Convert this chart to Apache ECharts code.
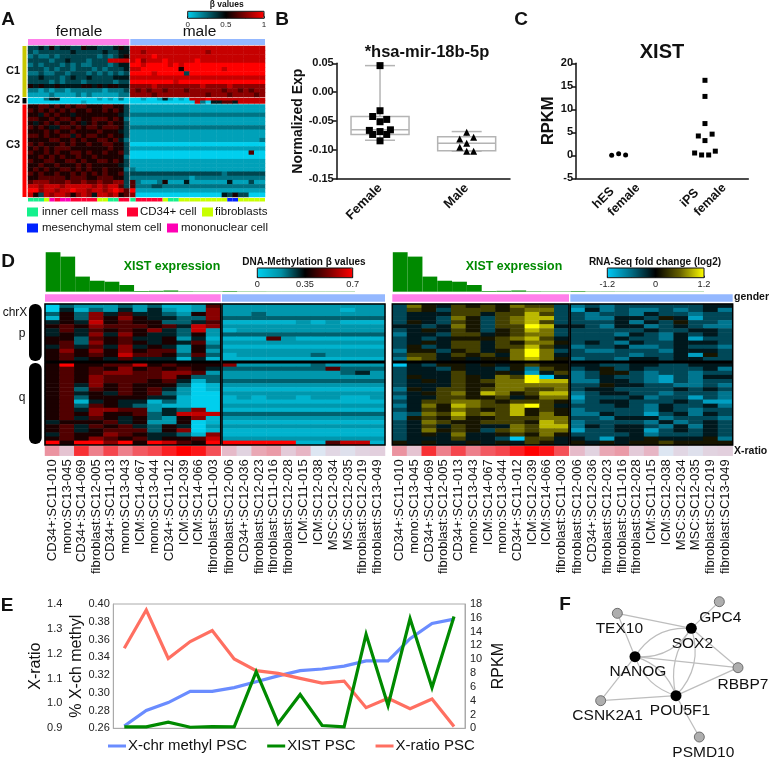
<!DOCTYPE html>
<html>
<head>
<meta charset="utf-8">
<style>html,body{margin:0;background:#fff}#c{width:770px;height:762px;filter:blur(0.45px)}</style>
<script src="https://cdn.jsdelivr.net/npm/echarts@6/dist/echarts.min.js"></script>
</head>
<body>
<div id="c"></div>
<script>
// panel A, one digit per cell (0 low .. 9 high), female columns then male columns
const heatA = [
  '3343534433544333454 8888888888888888888888888',
  '3233333343333343344 8878888888888878888888888',
  '2322323333333232345 8888988888888888888888888',
  '3333233433323338888 8978889888889888888888888',
  '2323332323223332344 9989999898999999999999999',
  '3332323323332323334 8899999995999999989999999',
  '2232233233323232323 9999899999399999999999999',
  '3343332343343333444 8888888888888888888888888',
  '3333232333233333233 9999999989999999999999999',
  '5454454444554545544 7777877777777877778777777',
  '2212122122222212223 7676776777677777767767677',
  '1111211112121111122 7777677777777767776777767',
  '0002440000000101020 0010014101088898888888888',
  '0000000000100000000 0000000000008204466488888',
  '5566565656655566553 1111111111111111111111111',
  '6565656565565565653 1111111111111111111111111',
  '5546565545555555543 2222222222222222222222222',
  '6655656656556665652 1111111111111111111111111',
  '5456565565456556553 1111111111111111111111111',
  '6565446656566566653 2222222222222222222222222',
  '5556565565555655543 1111111111111111111111111',
  '6656556646566556553 1111111111111111111111111',
  '5555665565655665642 1111111111111111111111112',
  '6565556565565566553 0000000000000000000000000',
  '5656566655555556553 1111111111111111111111111',
  '6556565566565565563 0000000000000000000000600',
  '5565656556556555552 0000000000000000000000000',
  '6556655665655665653 1111111111111111111111111',
  '5565565556565555543 1111111111111111111111111',
  '5656556656565565552 2111111111111111111111111',
  '6565565565656565563 3333333333333333323333333',
  '5566666566655666553 2222222222212222222222222',
  '6777666766766766773 6211125111411111114111311',
  '8878887888887878863 6222332222222222222222222',
  '9978878898878878986 9111111111111111111111111',
  '8538788757874887856 7000000000000000043533000'
]
const heatAStripFemale = ['icm','icm','icm','fib','mono','cd34','mono','mono','cd34','cd34','cd34','cd34','cd34','fib','fib','icm','icm','cd34','cd34']
const heatAStripMale = ['icm','cd34','cd34','cd34','cd34','cd34','fib','icm','icm','fib','fib','fib','fib','fib','fib','fib','fib','fib','msc','msc','fib','fib','fib','fib','fib']
const cellTypeNames = ['inner cell mass', 'CD34+ cell', 'fibroblasts', 'mesenchymal stem cell', 'mononuclear cell']

// panel B: category, min, q1, median, q3, max
const boxCategories = ['Female', 'Male']
const boxValues = [[0, -0.083, -0.073, -0.065, -0.042, 0.046], [1, -0.102, -0.101, -0.088, -0.077, -0.068]]
const femalePoints = [[0.5, 0.046], [0.5, -0.032], [0.415, -0.042], [0.577, -0.047], [0.5, -0.051], [0.377, -0.066], [0.62, -0.065], [0.5, -0.068], [0.415, -0.073], [0.577, -0.073], [0.5, -0.084]]
const malePoints = [[1.5, -0.069], [1.42, -0.081], [1.58, -0.078], [1.5, -0.088], [1.42, -0.095], [1.5, -0.102], [1.58, -0.102]]

// panel C
const xistCategories = ['hES female', 'iPS female']
const hesPoints = [[0.414, 0], [0.495, 0.36], [0.576, 0.07]]
const ipsPoints = [[1.497, 16.3], [1.497, 12.8], [1.497, 6.9], [1.42, 4.2], [1.58, 4.6], [1.497, 3.2], [1.377, 0.5], [1.617, 0.9], [1.458, 0.07], [1.54, 0.07]]

// panel D
const samplesFemale = ['CD34+:SC11-010', 'mono:SC13-045', 'CD34+:SC14-069', 'fibroblast:SC12-005', 'CD34+:SC11-013', 'mono:SC13-043', 'ICM:SC14-067', 'mono:SC13-044', 'CD34+:SC11-012', 'ICM:SC12-039', 'ICM:SC14-066', 'fibroblast:SC11-003']
const samplesMale = ['fibroblast:SC12-006', 'CD34+:SC12-036', 'fibroblast:SC12-023', 'fibroblast:SC11-016', 'fibroblast:SC12-028', 'ICM:SC11-015', 'ICM:SC12-038', 'MSC:SC12-034', 'MSC:SC12-035', 'fibroblast:SC12-019', 'fibroblast:SC13-049']
const xistBars = [16.2, 14.4, 6.2, 4.5, 4.1, 2.75, 0.28, 0.35, 0.5, 0.18, 0.14, 0.14, 0.25, 0.12, 0.12, 0.1, 0.1, 0.1, 0.1, 0.1, 0.1]
const xRatioFemale = [0.5, 0.28, 0.85, 0.58, 0.78, 0.58, 0.72, 0.78, 0.9, 1, 0.93, 0.75]
const xRatioMale = [0.34, 0.15, 0.42, 0.47, 0.22, 0.36, 0, 0.13, 0.05, 0.15, 0.18]
const heatMethyl = [
  '032223231126 22222222222',
  '041324242127 22222222122',
  '353746443257 22322222222',
  '153757544337 33333333333',
  '454856553346 11111212111',
  '565766656487 22222222222',
  '464656574382 12222222222',
  '454747544352 33333333333',
  '553656445241 11162111111',
  '563756545462 22222222222',
  '464647454253 11111111111',
  '575757566252 22222222222',
  '565658665363 12222232222',
  '564546444141 11111111111',
  '595566856555 72222232222',
  '565657565654 33333336333',
  '565677667762 22222222342',
  '565766667533 22222222222',
  '565766656413 33333333333',
  '564756555301 22222222222',
  '563656564201 11111111111',
  '564546563200 22222222222',
  '563555544100 12122122112',
  '561454413100 11111111111',
  '563654321100 22222222222',
  '564776624370 11111111111',
  '565755634888 33333333333',
  '564654532571 22222222222',
  '455564522501 11111111111',
  '564656435402 22222222222',
  '564566635701 11111111111',
  '465576544317 11111111111',
  '565765645568 22222222222',
  '959979598659 99999116881'
]
const heatRna = [
  '375465657663 23233333344',
  '365366656773 14232232342',
  '344466466863 32332433233',
  '344375367883 32244354133',
  '354365367863 33342435332',
  '443475366984 43244234322',
  '345465356873 33333433443',
  '244366456773 33324324343',
  '343455567864 33343324133',
  '345466465775 34324334443',
  '353466466864 23342234332',
  '255356457973 32233324443',
  '366465647974 33332334153',
  '276454557875 23324434433',
  '043554545655 44334433444',
  '344354435265 34534333342',
  '344464454146 23553233233',
  '354465476904 23433213244',
  '345465677988 22443213233',
  '344465577777 33544332232',
  '254665677667 34433334343',
  '345675875688 23443323332',
  '244665564577 13334233132',
  '346677656665 23443334311',
  '247587668964 33343243342',
  '346576568565 23333243233',
  '237686768575 22433134243',
  '256575566677 33244423332',
  '347655666587 23333242343',
  '346465447688 24344324243',
  '347565367677 13344134343',
  '345474456575 33334233343',
  '344464430664 43144544452',
  '545445454654 54545565555'
]

// panel E
const pscIndex = ['1', '2', '3', '4', '5', '6', '7', '8', '9', '10', '11', '12', '13', '14', '15', '16']
const methylPsc = [0.2626, 0.28, 0.289, 0.3016, 0.3016, 0.3058, 0.3125, 0.319, 0.325, 0.3268, 0.33, 0.336, 0.336, 0.361, 0.378, 0.383]
const xistPsc = [0.2, 0.2, 0.9, 0.15, 0.25, 0.2, 8.2, 0.7, 4.9, 0.4, 0.2, 13.6, 3.3, 15.9, 5.9, 16.2]
const xRatioPsc = [1.222, 1.376, 1.181, 1.249, 1.293, 1.179, 1.132, 1.121, 1.101, 1.082, 1.09, 0.983, 1.021, 0.979, 1.018, 0.907]

// panel F, read in crop units
const netNames = ['TEX10', 'GPC4', 'SOX2', 'NANOG', 'RBBP7', 'POU5F1', 'CSNK2A1', 'PSMD10']
const netX = [262, 568, 484, 315, 624, 438, 212, 508]
const netY = [70, 35, 115, 200, 233, 317, 332, 441]
const netHub = [0, 0, 1, 1, 0, 1, 0, 0]
const netEdges = [[0, 2, 0], [0, 3, 0], [1, 2, 0], [2, 3, 0.3], [2, 3, -0.3], [2, 4, 0], [2, 5, 0.3], [2, 5, -0.25], [3, 4, 0], [3, 5, 0.25], [3, 5, -0.25], [4, 5, 0], [5, 6, 0], [3, 6, 0], [5, 7, 0]]

const FONT = 'Liberation Sans'
const cyanRed = ['#00cfee', '#000000', '#ff0000']
const cyanRedDark = ['#00cfee', '#0090a5', '#000000', '#7a0000', '#ff0000']
const cyanYellow = ['#00c8f4', '#006c84', '#000000', '#666000', '#ffff00']
const typeColors = { icm: '#14f08c', cd34: '#ff0033', fib: '#c8ff00', msc: '#0022ff', mono: '#ff00b4' }
const PINK = '#ff80ea'
const BLUE = '#94b8ff'
const GREEN = '#008a00'

let grids = []
let xAxes = []
let yAxes = []
let series = []
let texts = []

function addGrid (l, t, w, h, extra) {
  grids.push(Object.assign({ left: l, top: t, width: w, height: h }, extra))
  return grids.length - 1
}
function label (text, x, y, size, opts) {
  texts.push({
    type: 'text',
    silent: true,
    x,
    y,
    rotation: (opts && opts.rotation) || 0,
    style: Object.assign({
      text,
      x: 0,
      y: 0,
      font: `${(opts && opts.weight) || 'normal'} ${size}px "${FONT}"`,
      fill: '#111',
      textAlign: 'center',
      textVerticalAlign: 'middle'
    }, opts && opts.style)
  })
}

// heatmap cut in blocks so the white gaps are real gaps
function heat (rows, xr, yBlocks, map, lo, hi, framed) {
  let start = 0
  yBlocks.forEach(([top, bottom, count]) => {
    xr.forEach(([x0, x1], c) => {
      const g = addGrid(x0, top, x1 - x0, bottom - top, framed ? { show: true, borderColor: '#000', borderWidth: 1.5, z: 5 } : {})
      const part = rows.slice(start, start + count).map(r => r.split(' ')[c])
      const data = []
      part.forEach((cells, y) => {
        cells.split('').forEach((d, x) => data.push([x, y, lo + +d / 9 * (hi - lo)]))
      })
      xAxes.push({ type: 'category', gridIndex: g, show: false, data: part[0].split('').map((d, i) => i) })
      yAxes.push({ type: 'category', gridIndex: g, show: false, inverse: true, data: part.map((d, i) => i) })
      map.push(series.length)
      series.push({ type: 'heatmap', xAxisIndex: xAxes.length - 1, yAxisIndex: yAxes.length - 1, data, silent: true, progressive: 0 })
    })
    start += count
  })
}

// one row of coloured cells
function strip (x0, x1, top, bottom, colors, radius) {
  const g = addGrid(x0, top, x1 - x0, bottom - top)
  xAxes.push({ type: 'category', gridIndex: g, show: false, data: colors.map((d, i) => i) })
  yAxes.push({ type: 'value', gridIndex: g, show: false, min: 0, max: 1 })
  series.push({
    type: 'bar',
    xAxisIndex: xAxes.length - 1,
    yAxisIndex: yAxes.length - 1,
    barCategoryGap: 0,
    silent: true,
    data: colors.map(c => ({ value: 1, itemStyle: { color: c, borderRadius: radius || 0 } }))
  })
}

function colorbarAxis (x0, x1, top, bottom, min, max, interval, size, margin) {
  const g = addGrid(x0, top, x1 - x0, bottom - top, { show: true, borderColor: '#111', borderWidth: 1, z: 5 })
  xAxes.push({
    type: 'value', gridIndex: g, min, max, interval,
    axisLine: { show: false },
    splitLine: { show: false },
    axisTick: { inside: true, length: 2, lineStyle: { color: '#333' } },
    minorTick: { show: true, splitNumber: 2, length: 1.5, lineStyle: { color: '#333' } },
    axisLabel: { fontFamily: FONT, fontSize: size, color: '#222', margin, showMinLabel: true, showMaxLabel: true, formatter: v => String(+v.toFixed(2)), z: 6 }
  })
  yAxes.push({ type: 'value', gridIndex: g, show: false, min: 0, max: 1 })
}

function xistPanel (x0, x1) {
  const g = addGrid(x0, 251, x1 - x0, 40.7)
  xAxes.push({ type: 'category', gridIndex: g, show: false, data: xistBars.map((d, i) => i) })
  yAxes.push({ type: 'value', gridIndex: g, show: false, min: 0, max: 16.7 })
  series.push({ type: 'bar', xAxisIndex: xAxes.length - 1, yAxisIndex: yAxes.length - 1, barCategoryGap: 0, silent: true, itemStyle: { color: GREEN }, data: xistBars })
}

function ratioPanel (x0, x1, names, values, map) {
  const g = addGrid(x0, 446.3, x1 - x0, 9.4)
  xAxes.push({
    type: 'category', gridIndex: g, data: names,
    axisLine: { show: false },
    axisTick: { show: false },
    axisLabel: { interval: 0, rotate: 90, margin: 3.5, fontFamily: FONT, fontSize: 13, color: '#111' }
  })
  yAxes.push({ type: 'category', gridIndex: g, show: false, data: ['x'] })
  map.push(series.length)
  series.push({ type: 'heatmap', xAxisIndex: xAxes.length - 1, yAxisIndex: yAxes.length - 1, silent: true, progressive: 0, data: values.map((v, i) => [i, 0, v]) })
}

function dotAxes (g, cats, yMin, yMax, interval, fmt, name, nameSize, nameGap, labelSize, catSize) {
  xAxes.push({
    type: 'category', gridIndex: g, data: cats,
    axisLine: { onZero: false, lineStyle: { color: '#111', width: 1.5 } },
    axisTick: { alignWithLabel: true, length: 4, lineStyle: { color: '#111', width: 1.5 } },
    axisLabel: catSize ? { interval: 0, rotate: 45, margin: 7, fontFamily: FONT, fontWeight: 'bold', fontSize: catSize, color: '#111' } : { show: false }
  })
  const catAxis = xAxes.length - 1
  xAxes.push({ type: 'value', gridIndex: g, show: false, min: 0, max: 2 })
  yAxes.push({
    type: 'value', gridIndex: g, min: yMin, max: yMax, interval,
    name, nameLocation: 'middle', nameGap,
    nameTextStyle: { fontFamily: FONT, fontWeight: 'bold', fontSize: nameSize, color: '#111' },
    axisLine: { show: true, lineStyle: { color: '#111', width: 1.5 } },
    axisTick: { show: true, length: 4, lineStyle: { color: '#111', width: 1.5 } },
    splitLine: { show: false },
    axisLabel: { fontFamily: FONT, fontWeight: 'bold', fontSize: labelSize, color: '#111', margin: 3, formatter: fmt }
  })
  return { catAxis, dotAxis: catAxis + 1, y: yAxes.length - 1 }
}

function dots (ax, points, symbol, size) {
  series.push({ type: 'scatter', xAxisIndex: ax.dotAxis, yAxisIndex: ax.y, symbol, symbolSize: size, silent: true, z: 4, itemStyle: { color: '#000', opacity: 1 }, data: points })
}

const mapA = []
const mapMethyl = []
const mapRna = []
const mapRatio = []

// panel A
strip(28, 129.3, 39, 45, [PINK])
strip(130.3, 265, 39, 45, [BLUE])
strip(22.5, 26.5, 46, 97, ['#c8c800'])
strip(22.5, 26.5, 98, 103.5, ['#000'])
strip(22.5, 26.5, 104.5, 197, ['#ff0000'])
heat(heatA, [[28, 129.3], [130.3, 265]], [[46, 97, 12], [98, 103.5, 2], [104.5, 197, 22]], mapA, 0, 1, false)
strip(28, 129.3, 198, 201.5, heatAStripFemale.map(t => typeColors[t]))
strip(130.3, 265, 198, 201.5, heatAStripMale.map(t => typeColors[t]))
colorbarAxis(187.7, 264, 11.3, 18.3, 0, 1, 0.5, 8, 2)

label('A', 8, 20, 19, { weight: 'bold' })
label('female', 79, 32, 15.5)
label('male', 199.5, 32, 15.5)
label('C1', 13, 71, 11, { weight: 'bold' })
label('C2', 13, 100, 11, { weight: 'bold' })
label('C3', 13, 145, 11, { weight: 'bold' })
label('β values', 226.7, 5, 8.5, { weight: 'bold' })

// cell type key, same order as cellTypeNames
const keyRows = [[27, 212, 'icm', 42], [127, 212, 'cd34', 140], [202, 212, 'fib', 215], [27, 228, 'msc', 42], [167, 228, 'mono', 181]]
keyRows.forEach(([x, y, t, tx], i) => {
  strip(x, x + 11, y - 4.5, y + 4.5, [typeColors[t]])
  label(cellTypeNames[i], tx, y, 11.5, { style: { textAlign: 'left' } })
})

// panel B
label('B', 282, 20, 19, { weight: 'bold' })
label('*hsa-mir-18b-5p', 427, 52, 16.5, { weight: 'bold' })
const gB = addGrid(336.7, 63.3, 173.3, 115.7)
const axB = dotAxes(gB, boxCategories, -0.15, 0.05, 0.05, v => (Math.abs(v) < 1e-9 ? 0 : v).toFixed(2), 'Normalized Exp', 14, 32, 11, 13)
// whisker caps are half the box width, which the boxplot series cannot do
series.push({
  type: 'custom',
  xAxisIndex: axB.catAxis,
  yAxisIndex: axB.y,
  silent: true,
  encode: { x: 0, y: [1, 2, 3, 4, 5] },
  data: boxValues,
  renderItem (params, api) {
    const x = api.coord([api.value(0), 0])[0]
    const y = i => api.coord([api.value(0), api.value(i)])[1]
    const hLine = (yy, half) => ({ type: 'line', shape: { x1: x - half, y1: yy, x2: x + half, y2: yy } })
    const vLine = (y1, y2) => ({ type: 'line', shape: { x1: x, y1, x2: x, y2 } })
    const style = { stroke: '#b4b4b4', fill: null, lineWidth: 1.5 }
    return {
      type: 'group',
      children: [
        { type: 'rect', shape: { x: x - 29, y: y(4), width: 58, height: y(2) - y(4) } },
        hLine(y(3), 29),
        hLine(y(1), 15),
        hLine(y(5), 15),
        vLine(y(1), y(2)),
        vLine(y(4), y(5))
      ].map(el => Object.assign(el, { style }))
    }
  }
})
dots(axB, femalePoints, 'rect', 7)
dots(axB, malePoints, 'triangle', 7)

// panel C
label('C', 521, 20, 19, { weight: 'bold' })
label('XIST', 662, 52, 20, { weight: 'bold' })
const gC = addGrid(576, 63.3, 172.3, 115)
const axC = dotAxes(gC, xistCategories, -5, 20, 5, v => String(v), 'RPKM', 16.5, 17, 11, 0)
dots(axC, hesPoints, 'circle', 5)
dots(axC, ipsPoints, 'rect', 5)
const diag = Math.PI / 4
xistCategories.forEach((name, i) => {
  const [a, b] = name.split(' ')
  label(a, 603.5 + i * 86.2, 198, 12.5, { weight: 'bold', rotation: diag })
  label(b, 624 + i * 86.2, 200, 12.5, { weight: 'bold', rotation: diag })
})

// panel D
label('D', 8, 262, 19, { weight: 'bold' })
const rowsD = [[304, 361.3, 14], [362.8, 445, 20]]
const xLeft = [[45, 220.7], [222, 385]]
const xRight = [[392.3, 569], [570.3, 732.7]]
xistPanel(45.7, 355)
xistPanel(392.8, 704)
strip(xLeft[0][0], xLeft[0][1], 294.3, 301.7, [PINK])
strip(xLeft[1][0], xLeft[1][1], 294.3, 301.7, [BLUE])
strip(xRight[0][0], xRight[0][1], 294.3, 301.7, [PINK])
strip(xRight[1][0], xRight[1][1], 294.3, 301.7, [BLUE])
strip(29, 41.7, 304, 361, ['#000'], 6)
strip(29, 41.7, 363, 444, ['#000'], 6)
heat(heatMethyl, xLeft, rowsD, mapMethyl, 0, 0.7, true)
heat(heatRna, xRight, rowsD, mapRna, -1.2, 1.2, true)
ratioPanel(xLeft[0][0], xLeft[0][1], samplesFemale, xRatioFemale, mapRatio)
ratioPanel(xLeft[1][0], xLeft[1][1], samplesMale, xRatioMale, mapRatio)
ratioPanel(xRight[0][0], xRight[0][1], samplesFemale, xRatioFemale, mapRatio)
ratioPanel(xRight[1][0], xRight[1][1], samplesMale, xRatioMale, mapRatio)
colorbarAxis(257.3, 352.7, 268, 277.7, 0, 0.7, 0.35, 9.2, 2)
colorbarAxis(607.3, 704, 268, 277.7, -1.2, 1.2, 1.2, 9.2, 2)

label('XIST expression', 172, 267, 12.4, { weight: 'bold', style: { fill: GREEN } })
label('XIST expression', 514, 267, 12.4, { weight: 'bold', style: { fill: GREEN } })
label('DNA-Methylation β values', 304, 262, 10, { weight: 'bold' })
label('RNA-Seq fold change (log2)', 655, 262, 10, { weight: 'bold' })
label('chrX', 15, 313, 12)
label('p', 22, 334, 12)
label('q', 22, 398, 12)
label('gender', 734, 297.5, 10.5, { weight: 'bold', style: { textAlign: 'left' } })
label('X-ratio', 734, 451, 10.5, { weight: 'bold', style: { textAlign: 'left' } })

// panel E
label('E', 7, 606, 19, { weight: 'bold' })
const gE = addGrid(113.3, 604, 351.7, 124.3, { show: true, borderColor: '#aaa', borderWidth: 1 })
xAxes.push({
  type: 'category', gridIndex: gE, data: pscIndex,
  axisLine: { lineStyle: { color: '#aaa' } },
  axisTick: { length: 3, lineStyle: { color: '#aaa' } },
  axisLabel: { show: false }
})
const xE = xAxes.length - 1
const eName = { fontFamily: FONT, fontSize: 16, color: '#111' }
const eTick = { fontFamily: FONT, fontSize: 11, color: '#222' }
yAxes.push({
  type: 'value', gridIndex: gE, position: 'left', min: 0.26, max: 0.4, interval: 0.02,
  name: '% X-ch methyl', nameLocation: 'middle', nameGap: 26, nameTextStyle: eName,
  axisLine: { show: true, lineStyle: { color: '#aaa' } }, axisTick: { show: false }, splitLine: { show: false },
  axisLabel: Object.assign({ margin: 3.5, formatter: v => v.toFixed(2) }, eTick)
})
const yMethyl = yAxes.length - 1
yAxes.push({
  type: 'value', gridIndex: gE, position: 'left', offset: 48, min: 0.9, max: 1.4, interval: 0.1,
  name: 'X-ratio', nameLocation: 'middle', nameGap: 19, nameTextStyle: eName,
  axisLine: { show: false }, axisTick: { show: false }, splitLine: { show: false },
  axisLabel: Object.assign({ margin: 3, formatter: v => v.toFixed(1) }, eTick)
})
const yRatio = yAxes.length - 1
yAxes.push({
  type: 'value', gridIndex: gE, position: 'right', min: 0, max: 18, interval: 2,
  name: 'RPKM', nameLocation: 'middle', nameGap: 26, nameTextStyle: eName,
  axisLine: { show: true, lineStyle: { color: '#aaa' } }, axisTick: { show: false }, splitLine: { show: false },
  axisLabel: Object.assign({ margin: 5 }, eTick)
})
const yRpkm = yAxes.length - 1
function pscLine (name, values, yIndex, color) {
  series.push({ type: 'line', name, xAxisIndex: xE, yAxisIndex: yIndex, data: values, symbol: 'none', silent: true, lineStyle: { color, width: 3.2, join: 'miter' }, itemStyle: { color } })
}
pscLine('X-chr methyl PSC', methylPsc, yMethyl, '#6a8cff')
pscLine('X-ratio PSC', xRatioPsc, yRatio, '#ff6f61')
pscLine('XIST PSC', xistPsc, yRpkm, '#008a00')

// panel F
label('F', 565, 605, 19, { weight: 'bold' })
const gF = addGrid(530, 590, 240, 172)
xAxes.push({ type: 'value', gridIndex: gF, show: false, min: 0, max: 720 })
yAxes.push({ type: 'value', gridIndex: gF, show: false, min: 0, max: 516, inverse: true })
const netLabelOffset = [[2, 15], [1, 16], [1, 15], [3, 15], [5, 17], [4, 15], [7, 15], [4, 16]]
series.push({
  type: 'graph',
  coordinateSystem: 'cartesian2d',
  xAxisIndex: xAxes.length - 1,
  yAxisIndex: yAxes.length - 1,
  silent: true,
  z: 3,
  data: netNames.map((name, i) => ({
    name,
    value: [netX[i], netY[i]],
    symbolSize: netHub[i] ? 11 : 10,
    itemStyle: netHub[i] ? { color: '#000' } : { color: '#aeaeae', borderColor: '#555', borderWidth: 0.8 },
    label: { show: true, position: 'inside', offset: netLabelOffset[i], color: '#111', fontFamily: FONT, fontSize: 15.5 }
  })),
  links: netEdges.map(([source, target, curveness]) => ({ source, target, lineStyle: { curveness } })),
  lineStyle: { color: '#bdbdbd', width: 1.2, opacity: 1 }
})

const chart = echarts.init(document.getElementById('c'), null, { renderer: 'canvas' })
chart.setOption({
  animation: false,
  backgroundColor: '#fff',
  textStyle: { fontFamily: FONT },
  grid: grids,
  xAxis: xAxes,
  yAxis: yAxes,
  series,
  legend: {
    left: 108,
    top: 738.5,
    padding: 0,
    itemWidth: 18,
    itemHeight: 3,
    itemGap: 20,
    icon: 'rect',
    data: ['X-chr methyl PSC', 'XIST PSC', 'X-ratio PSC'],
    textStyle: { fontFamily: FONT, fontSize: 15, color: '#111', padding: [0, 0, 0, -3] }
  },
  visualMap: [
    { type: 'continuous', min: 0, max: 1, seriesIndex: mapA, orient: 'horizontal', left: 187.7, top: 11.3, itemWidth: 7, itemHeight: 76.3, padding: 0, text: null, hoverLink: false, inRange: { color: cyanRed } },
    { type: 'continuous', min: 0, max: 0.7, seriesIndex: mapMethyl, orient: 'horizontal', left: 257.3, top: 268, itemWidth: 9.7, itemHeight: 95.4, padding: 0, text: null, hoverLink: false, inRange: { color: cyanRedDark } },
    { type: 'continuous', min: -1.2, max: 1.2, seriesIndex: mapRna, orient: 'horizontal', left: 607.3, top: 268, itemWidth: 9.7, itemHeight: 96.7, padding: 0, text: null, hoverLink: false, inRange: { color: cyanYellow } },
    { type: 'continuous', min: 0, max: 1, seriesIndex: mapRatio, show: false, inRange: { color: ['#dde6f2', '#e6bccb', '#f06a74', '#ff0000'] } }
  ],
  graphic: { elements: texts }
})
</script>
</body>
</html>
